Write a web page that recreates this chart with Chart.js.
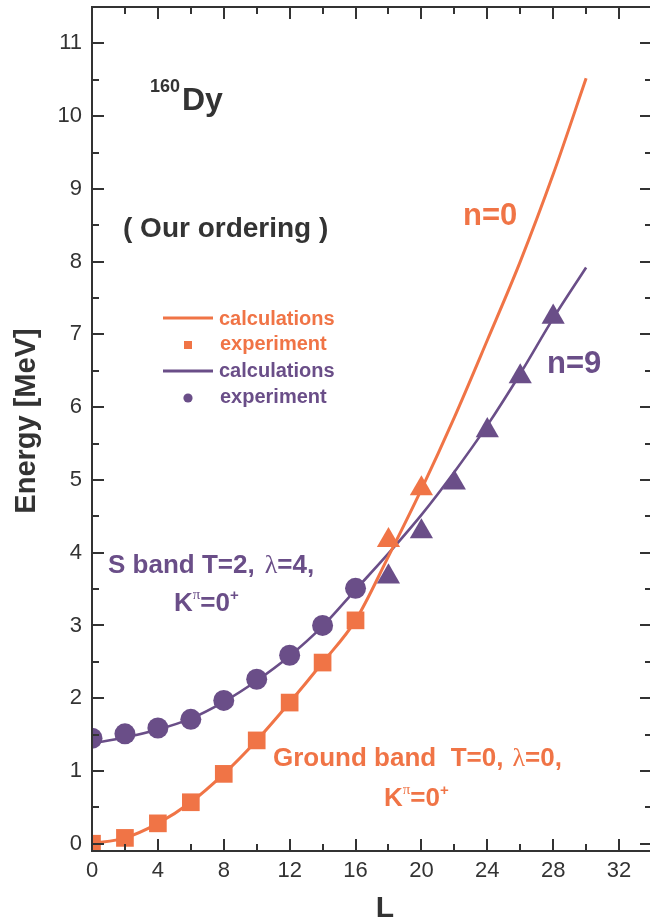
<!DOCTYPE html>
<html><head><meta charset="utf-8">
<script src="https://cdn.jsdelivr.net/npm/chart.js@4"></script>
<style>
html,body{margin:0;padding:0;background:#fff;overflow:hidden}
#wrap{width:650px;height:922px;overflow:hidden;position:relative}
canvas{display:block}
</style></head><body>
<div id="wrap"><canvas id="c" width="664" height="922"></canvas></div>
<script>
// ---- data ----
const calcL      = [0,2,4,6,8,10,12,14,16,18,20,22,24,26,28,30];
const groundCalc = [0.0,0.08,0.28,0.57,0.96,1.42,1.94,2.49,3.07,3.95,4.87,5.86,6.92,8.0,9.2,10.52];
const sbandCalc  = [1.38,1.46,1.57,1.72,1.95,2.24,2.58,2.99,3.49,3.99,4.52,5.11,5.75,6.46,7.22,7.92];
const groundExpL = [0,2,4,6,8,10,12,14,16];
const groundExp  = [0.0,0.08,0.28,0.57,0.96,1.42,1.94,2.49,3.07];
const groundHighL = [18,20];
const groundHigh  = [4.17,4.88];
const sbandExpL  = [0,2,4,6,8,10,12,14,16];
const sbandExp   = [1.45,1.51,1.59,1.71,1.97,2.26,2.59,3.0,3.51];
const sbandHighL = [18,20,22,24,26,28];
const sbandHigh  = [3.67,4.29,4.96,5.68,6.42,7.24];
const xTicks = [0,4,8,12,16,20,24,28,32];
const xMinor = [2,6,10,14,18,22,26,30];
const yTicks = [0,1,2,3,4,5,6,7,8,9,10,11];
const yMinor = [0.5,1.5,2.5,3.5,4.5,5.5,6.5,7.5,8.5,9.5,10.5];

const ORANGE = '#F07446', PURPLE = '#6A4E88', INK = '#333333';
const FAM = '"Liberation Sans", Arial, Helvetica, sans-serif';
const SER = '"Liberation Serif", "DejaVu Serif", serif';
const B = n => `bold ${n}px ${FAM}`;
const R = n => `${n}px ${SER}`;
const pts = (xs, ys) => xs.map((x, i) => ({x, y: ys[i]}));

function runs(ctx, x, y, parts) {
  let cx = x;
  for (const p of parts) {
    ctx.font = p.f; ctx.fillStyle = p.c;
    cx += (p.dx || 0);
    ctx.fillText(p.t, cx, y + (p.dy || 0));
    cx += ctx.measureText(p.t).width;
  }
}

const framePlugin = {
  id: 'frame',
  afterDatasetsDraw(chart) {
    const {ctx, chartArea: a, scales: {x, y}} = chart;
    ctx.save();
    ctx.strokeStyle = INK; ctx.lineWidth = 2; ctx.lineCap = 'butt';
    ctx.strokeRect(a.left, a.top, a.right - a.left, a.bottom - a.top);
    ctx.beginPath();
    const tx = (v, L) => { const p = Math.round(x.getPixelForValue(v)); ctx.moveTo(p, a.bottom); ctx.lineTo(p, a.bottom - L); ctx.moveTo(p, a.top); ctx.lineTo(p, a.top + L); };
    const ty = (v, L) => { const p = Math.round(y.getPixelForValue(v)); ctx.moveTo(a.left, p); ctx.lineTo(a.left + L, p); ctx.moveTo(a.right, p); ctx.lineTo(a.right - L, p); };
    xTicks.forEach(v => tx(v, 12)); xMinor.forEach(v => tx(v, 7));
    yTicks.forEach(v => ty(v, 12)); yMinor.forEach(v => ty(v, 7));
    ctx.stroke();
    ctx.restore();
  }
};

const textPlugin = {
  id: 'texts',
  afterDraw(chart) {
    const ctx = chart.ctx;
    ctx.save();
    ctx.textAlign = 'left'; ctx.textBaseline = 'alphabetic';
    // axis titles
    ctx.fillStyle = INK; ctx.font = B(29);
    ctx.save(); ctx.translate(35, 421); ctx.rotate(-Math.PI / 2);
    ctx.textAlign = 'center'; ctx.fillText('Energy [MeV]', 0, 0); ctx.restore();
    ctx.font = B(30); ctx.textAlign = 'center'; ctx.fillText('L', 385, 917); ctx.textAlign = 'left';
    // nucleus
    runs(ctx, 150, 92, [{t: '160', f: B(18), c: INK}]);
    runs(ctx, 182, 110, [{t: 'Dy', f: B(32), c: INK}]);
    runs(ctx, 123, 237, [{t: '( Our ordering )', f: B(28), c: INK}]);
    // band labels
    runs(ctx, 463, 225, [{t: 'n=0', f: B(31), c: ORANGE}]);
    runs(ctx, 547, 373, [{t: 'n=9', f: B(31), c: PURPLE}]);
    // legend
    ctx.lineWidth = 3;
    ctx.strokeStyle = ORANGE; ctx.beginPath(); ctx.moveTo(163, 318); ctx.lineTo(213, 318); ctx.stroke();
    ctx.fillStyle = ORANGE; ctx.fillRect(184, 341, 8, 8);
    ctx.strokeStyle = PURPLE; ctx.beginPath(); ctx.moveTo(163, 371); ctx.lineTo(213, 371); ctx.stroke();
    ctx.fillStyle = PURPLE; ctx.beginPath(); ctx.arc(188, 398, 4.6, 0, Math.PI * 2); ctx.fill();
    runs(ctx, 219, 325, [{t: 'calculations', f: B(20), c: ORANGE}]);
    runs(ctx, 220, 350, [{t: 'experiment', f: B(20), c: ORANGE}]);
    runs(ctx, 219, 377, [{t: 'calculations', f: B(20), c: PURPLE}]);
    runs(ctx, 220, 403, [{t: 'experiment', f: B(20), c: PURPLE}]);
    // S band
    runs(ctx, 108, 573, [
      {t: 'S band T=2,', f: B(26), c: PURPLE},
      {t: 'λ', f: R(26), c: PURPLE, dx: 10},
      {t: '=4,', f: B(26), c: PURPLE}]);
    runs(ctx, 174, 611, [
      {t: 'K', f: B(26), c: PURPLE},
      {t: 'π', f: R(15), c: PURPLE, dy: -12},
      {t: '=0', f: B(26), c: PURPLE},
      {t: '+', f: B(15), c: PURPLE, dy: -11}]);
    // Ground band
    runs(ctx, 273, 766, [
      {t: 'Ground band  T=0,', f: B(26), c: ORANGE},
      {t: 'λ', f: R(26), c: ORANGE, dx: 9},
      {t: '=0,', f: B(26), c: ORANGE}]);
    runs(ctx, 384, 806, [
      {t: 'K', f: B(26), c: ORANGE},
      {t: 'π', f: R(15), c: ORANGE, dy: -12},
      {t: '=0', f: B(26), c: ORANGE},
      {t: '+', f: B(15), c: ORANGE, dy: -11}]);
    ctx.restore();
  }
};

const markers = (data, color, style, r) => ({
  data, showLine: false, pointStyle: style, pointRadius: r, pointHoverRadius: r,
  pointBackgroundColor: color, pointBorderWidth: 0, borderWidth: 0, clip: 0
});
const curve = (data, color, w) => ({
  data, showLine: true, borderColor: color, borderWidth: w, pointRadius: 0, pointHoverRadius: 0,
  cubicInterpolationMode: 'monotone', fill: false, clip: 0
});

new Chart(document.getElementById('c'), {
  type: 'scatter',
  data: {
    datasets: [
      markers(pts(groundExpL, groundExp), ORANGE, 'rect', 12.5),
      markers(pts(sbandExpL, sbandExp), PURPLE, 'circle', 10.5),
      markers(pts(groundHighL, groundHigh), ORANGE, 'triangle', 13.4),
      markers(pts(sbandHighL, sbandHigh), PURPLE, 'triangle', 13.4),
      curve(pts(calcL, groundCalc), ORANGE, 3),
      curve(pts(calcL, sbandCalc), PURPLE, 2.6)
    ]
  },
  options: {
    responsive: false, devicePixelRatio: 1, animation: false, events: [],
    layout: {autoPadding: false, padding: {top: 7, right: 12, left: 0, bottom: 0}},
    plugins: {legend: {display: false}, tooltip: {enabled: false}},
    scales: {
      x: {
        type: 'linear', position: 'bottom', min: 0, max: 34,
        afterBuildTicks: s => { s.ticks = xTicks.map(v => ({value: v})); },
        afterFit: s => { s.height = 71; s.paddingLeft = 0; s.paddingRight = 0; },
        grid: {display: false, drawTicks: false}, border: {display: false},
        ticks: {color: INK, padding: 7, font: {family: FAM, size: 22, lineHeight: 1.2}, maxRotation: 0, autoSkip: false}
      },
      y: {
        type: 'linear', position: 'left', min: -0.1, max: 11.5,
        afterBuildTicks: s => { s.ticks = yTicks.map(v => ({value: v})); },
        afterFit: s => { s.width = 92; s.paddingTop = 0; s.paddingBottom = 0; },
        grid: {display: false, drawTicks: false}, border: {display: false},
        ticks: {color: INK, padding: 10, font: {family: FAM, size: 22, lineHeight: 1.2}, autoSkip: false}
      }
    }
  },
  plugins: [framePlugin, textPlugin]
});
</script>
</body></html>
